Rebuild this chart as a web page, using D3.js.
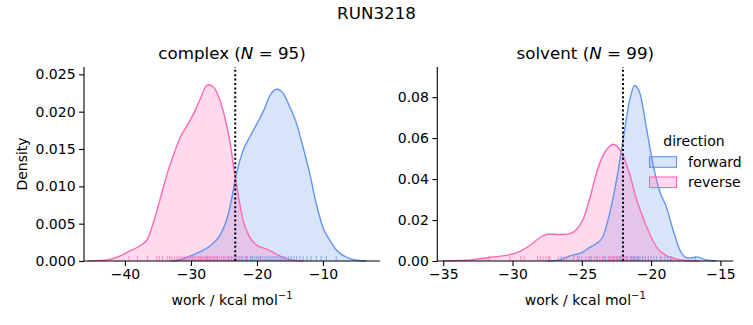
<!DOCTYPE html>
<html><head><meta charset="utf-8">
<script src="https://cdn.jsdelivr.net/npm/d3@7"></script>
<style>body{margin:0;background:#fff}svg{display:block;font-family:"DejaVu Sans",sans-serif}</style>
</head><body>
<svg id="c" width="753" height="325"></svg>
<script>
const suptitle = "RUN3218";
const directions = ["forward", "reverse"];
const colors = {forward: "#6495ED", reverse: "#FF69B4"};

// KDE curves: [work, density]
const complexForward = [[-33,0],[-32,0.0001],[-29.5,0.0009],[-27.0,0.0021],[-25.5,0.0036],[-24.5,0.0058],[-24.0,0.0076],[-23.1,0.0117],[-22.1,0.0148],[-21.1,0.0166],[-20.0,0.0184],[-19.0,0.0201],[-18.0,0.0222],[-17.0,0.0230],[-16.0,0.0224],[-15.0,0.0206],[-14.0,0.0184],[-13.0,0.0152],[-12.0,0.0117],[-11.0,0.0076],[-10.0,0.0045],[-8.9,0.0027],[-7.9,0.0014],[-6.4,0.0005],[-4.9,0.0001],[-3.4,0]];
const complexReverse = [[-45.5,0],[-44.5,0.00005],[-43.2,0.0001],[-41.2,0.0005],[-39.6,0.0012],[-37.6,0.0021],[-36.6,0.0029],[-35.6,0.0054],[-34.6,0.0085],[-33.6,0.0117],[-32.6,0.0143],[-31.6,0.0166],[-30.6,0.0181],[-29.5,0.0199],[-28.5,0.0219],[-28.0,0.0230],[-27.4,0.0236],[-26.6,0.0233],[-26.0,0.0224],[-25.0,0.0197],[-24.0,0.0155],[-23.6,0.0130],[-23.1,0.0103],[-22.6,0.0076],[-22.1,0.0054],[-21.1,0.0032],[-20.0,0.0021],[-18.5,0.0016],[-17.0,0.0009],[-15.5,0.0003],[-14.0,0.00005],[-13.0,0]];
const solventForward = [[-27.5,0],[-26.8,0.0003],[-25.8,0.0026],[-24.9,0.0045],[-24.4,0.0068],[-24.0,0.0083],[-23.5,0.0116],[-23.0,0.0230],[-22.5,0.0393],[-22.03,0.0588],[-21.55,0.0784],[-21.2,0.0857],[-20.8,0.0817],[-20.35,0.0654],[-19.87,0.0474],[-19.4,0.0344],[-18.9,0.0263],[-18.4,0.0148],[-17.9,0.0050],[-17.5,0.0018],[-17.2,0.0014],[-16.7,0.0020],[-16.0,0.0005],[-15.3,0]];
const solventReverse = [[-35.0,0],[-34.7,0.0001],[-33.0,0.0005],[-31.6,0.0018],[-30.2,0.0031],[-29.4,0.0050],[-28.7,0.0078],[-28.0,0.0116],[-27.3,0.0132],[-26.6,0.0129],[-25.8,0.0135],[-25.35,0.0156],[-24.9,0.0205],[-24.4,0.0312],[-23.96,0.0425],[-23.5,0.0512],[-23.0,0.0560],[-22.75,0.0570],[-22.4,0.0555],[-22.03,0.0515],[-21.55,0.0425],[-21.1,0.0312],[-20.6,0.0214],[-20.1,0.0132],[-19.6,0.0067],[-18.9,0.0026],[-18.2,0.0010],[-17.2,0.0001],[-16.5,0]];

// rug values
const complexForwardRug = [-29.8,-27.5,-26.0,-25.0,-24.3,-23.8,-23.2,-22.7,-22.2,-21.8,-21.4,-21.0,-20.7,-20.4,-20.1,-19.8,-19.5,-19.2,-18.9,-18.6,-18.3,-18.0,-17.7,-17.4,-17.1,-16.8,-16.5,-16.2,-15.9,-15.6,-15.2,-14.8,-14.4,-14.0,-13.5,-13.0,-12.4,-11.8,-11.0,-10.3,-9.5,-8.0];
const complexReverseRug = [-39.4,-38.1,-36.6,-35.2,-34.8,-34.3,-33.6,-33.2,-32.9,-32.5,-32.1,-31.8,-31.5,-31.2,-30.9,-30.6,-30.3,-30.0,-29.8,-29.5,-29.3,-29.0,-28.8,-28.6,-28.4,-28.2,-28.0,-27.8,-27.6,-27.4,-27.2,-27.0,-26.8,-26.6,-26.4,-26.2,-26.0,-25.7,-25.4,-25.1,-24.8,-24.5,-24.2,-23.9,-23.5,-23.0,-22.4,-21.6,-20.8,-19.5];
const solventForwardRug = [-26.5,-25.2,-24.4,-23.9,-23.4,-23.0,-22.7,-22.4,-22.2,-22.0,-21.8,-21.7,-21.5,-21.4,-21.3,-21.2,-21.1,-21.0,-20.9,-20.8,-20.6,-20.4,-20.2,-20.0,-19.8,-19.6,-19.3,-19.0,-18.8,-18.6,-16.8];
const solventReverseRug = [-31.7,-30.2,-29.4,-29.15,-28.2,-28.0,-27.8,-27.6,-27.4,-27.3,-26.7,-26.3,-26.1,-25.6,-25.3,-25.0,-24.7,-24.5,-24.3,-24.1,-23.9,-23.7,-23.5,-23.3,-23.1,-22.9,-22.8,-22.6,-22.5,-22.3,-22.1,-21.9,-21.7,-21.5,-21.3,-21.0,-20.6,-20.2,-19.3,-18.5];

const complexXTicks = [-40,-30,-20,-10];
const complexYTicks = [0,0.005,0.010,0.015,0.020,0.025];
const solventXTicks = [-35,-30,-25,-20,-15];
const solventYTicks = [0,0.02,0.04,0.06,0.08];
const refLines = {complex: -23.29, solvent: -22.03};
const counts = {complex: 95, solvent: 99};

const panels = [
  {name:"complex", x0:84, x1:380, xdom:[-46.2,-1.36], ydom:[0,0.02598], xt:complexXTicks, yt:complexYTicks, yf:".3f",
   curves:{forward:complexForward, reverse:complexReverse}, rugs:{forward:complexForwardRug, reverse:complexReverseRug}, ylabel:true},
  {name:"solvent", x0:437.3, x1:733.3, xdom:[-35.43,-14.07], ydom:[0,0.0947], xt:solventXTicks, yt:solventYTicks, yf:".2f",
   curves:{forward:solventForward, reverse:solventReverse}, rugs:{forward:solventForwardRug, reverse:solventReverseRug}, ylabel:false}
];
const yTop = 67, yBot = 261;
const svg = d3.select("#c");
const FS = 14;

svg.append("text").attr("x", 376.5).attr("y", 19).attr("text-anchor","middle").attr("font-size",16.7).text(suptitle);

panels.forEach(p => {
  const x = d3.scaleLinear().domain(p.xdom).range([p.x0, p.x1]);
  const y = d3.scaleLinear().domain(p.ydom).range([yBot, yTop]);
  const g = svg.append("g");
  const area = d3.area().x(d=>x(d[0])).y0(y(0)).y1(d=>y(d[1])).curve(d3.curveMonotoneX);
  const line = d3.line().x(d=>x(d[0])).y(d=>y(d[1])).curve(d3.curveMonotoneX);
  directions.forEach(dir => {
    g.append("path").attr("d", area(p.curves[dir])).attr("fill", colors[dir]).attr("fill-opacity", 0.25);
  });
  directions.forEach(dir => {
    g.append("path").attr("d", line(p.curves[dir])).attr("fill","none").attr("stroke", colors[dir]).attr("stroke-width",1.4);
  });
  // rugs
  directions.forEach(dir => {
    g.selectAll(null).data(p.rugs[dir]).enter().append("line")
      .attr("x1", d=>x(d)).attr("x2", d=>x(d)).attr("y1", yBot).attr("y2", yBot-5)
      .attr("stroke", colors[dir]).attr("stroke-width",1).attr("stroke-opacity",0.7);
  });
  // reference line
  g.append("line").attr("x1", x(refLines[p.name])).attr("x2", x(refLines[p.name]))
    .attr("y1", yBot).attr("y2", yTop).attr("stroke","#000").attr("stroke-width",2).attr("stroke-dasharray","2,2.4");
  // axes
  const xa = d3.axisBottom(x).tickValues(p.xt).tickSize(4.9).tickPadding(3.5).tickFormat(d3.format("d"));
  const ya = d3.axisLeft(y).tickValues(p.yt).tickSize(4.9).tickPadding(3.5).tickFormat(d3.format(p.yf));
  const gx = svg.append("g").attr("transform",`translate(0,${yBot})`).call(xa);
  const gy = svg.append("g").attr("transform",`translate(${p.x0},0)`).call(ya);
  [gx, gy].forEach(a => {
    a.select(".domain").attr("stroke","#000").attr("stroke-width",1.1);
    a.selectAll(".tick line").attr("stroke","#000").attr("stroke-width",1.1);
    a.selectAll(".tick text").attr("font-size",FS).attr("font-family","DejaVu Sans").attr("fill","#000");
  });
  gx.select(".domain").attr("d", `M${p.x0},0H${p.x1}`);
  gy.select(".domain").attr("d", `M0,${yBot}V${yTop}`);
  // title
  const cx = (p.x0 + p.x1)/2;
  const t = svg.append("text").attr("x", cx).attr("y", 59).attr("text-anchor","middle").attr("font-size",16.7);
  t.append("tspan").text(p.name + " (");
  t.append("tspan").attr("font-style","italic").text("N");
  t.append("tspan").text(" = " + counts[p.name] + ")");
  // xlabel
  const xl = svg.append("text").attr("x", cx).attr("y", 305).attr("text-anchor","middle").attr("font-size",FS);
  xl.append("tspan").text("work / kcal mol");
  xl.append("tspan").attr("dy",-6).attr("font-size",10).text("−1");
  if (p.ylabel) {
    svg.append("text").attr("transform",`translate(27,${(yTop+yBot)/2}) rotate(-90)`).attr("text-anchor","middle")
      .attr("font-size",FS).text("Density");
  }
});

// legend
const lg = svg.append("g");
lg.append("text").attr("x", 694).attr("y", 146).attr("text-anchor","middle").attr("font-size",FS).text("direction");
directions.forEach((dir,i) => {
  const yy = 156.7 + i*20.3;
  lg.append("rect").attr("x",649.5).attr("y",yy).attr("width",27).attr("height",10.6)
    .attr("fill",colors[dir]).attr("fill-opacity",0.25).attr("stroke",colors[dir]).attr("stroke-width",1.1);
  lg.append("text").attr("x",688).attr("y",yy+10).attr("font-size",FS).text(dir);
});
</script>
</body></html>
